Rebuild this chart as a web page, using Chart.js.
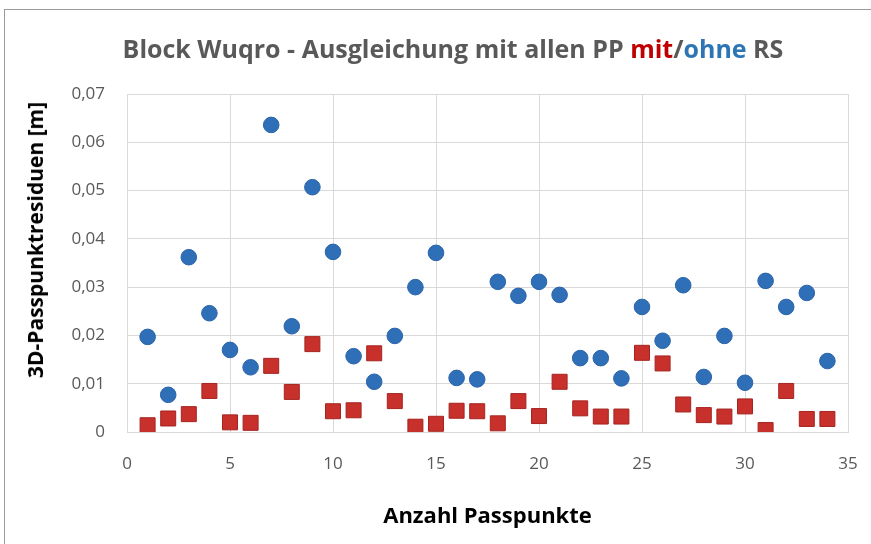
<!DOCTYPE html>
<html><head><meta charset="utf-8">
<script src="https://cdn.jsdelivr.net/npm/chart.js@4.4.1/dist/chart.umd.min.js"></script>
<style>
html,body{margin:0;padding:0;background:#fff;overflow:hidden;}
#wrap{position:relative;width:871px;height:544px;}
#frame{position:absolute;left:4px;top:9px;width:900px;height:600px;border:1.5px solid #9a9a9a;box-sizing:border-box;}
#title{position:absolute;left:0;width:906px;top:31px;text-align:center;font-family:"Open Sans",sans-serif;font-weight:bold;font-size:25px;line-height:34px;color:#595959;white-space:nowrap;}
#title .r{color:#c00000;} #title .b{color:#2e75b6;}
#ytitle{position:absolute;left:35px;top:240px;transform:translate(-50%,-50%) rotate(-90deg);font-family:"Open Sans",sans-serif;font-weight:bold;font-size:21px;line-height:26px;color:#000;white-space:nowrap;}
canvas{position:absolute;left:0;top:0;}
</style></head>
<body><div id="wrap"><div id="frame"></div>
<canvas id="c" width="871" height="544"></canvas>
<div id="title">Block Wuqro - Ausgleichung mit allen PP <span class="r">mit</span>/<span class="b">ohne</span> RS</div>
<div id="ytitle">3D-Passpunktresiduen [m]</div>
</div>
<script>
const passpunkte = [1,2,3,4,5,6,7,8,9,10,11,12,13,14,15,16,17,18,19,20,21,22,23,24,25,26,27,28,29,30,31,32,33,34];
const ohneRS = [0.0197,0.0077,0.0362,0.0246,0.0170,0.0134,0.0636,0.0219,0.0507,0.0373,0.0157,0.0104,0.0199,0.0300,0.0371,0.0112,0.0109,0.0311,0.0282,0.0311,0.0284,0.0153,0.0153,0.0111,0.0259,0.0189,0.0304,0.0114,0.0199,0.0102,0.0313,0.0259,0.0288,0.0147];
const mitRS = [0.0014,0.0028,0.0037,0.0085,0.0020,0.0019,0.0137,0.0083,0.0182,0.0043,0.0045,0.0163,0.0064,0.0011,0.0017,0.0044,0.0043,0.0018,0.0064,0.0033,0.0104,0.0049,0.0032,0.0032,0.0164,0.0142,0.0057,0.0035,0.0032,0.0053,0.0004,0.0085,0.0027,0.0027];
const xTicks = [0,5,10,15,20,25,30,35];
const yTicks = [0,0.01,0.02,0.03,0.04,0.05,0.06,0.07];

const toXY = vals => passpunkte.map((x,i)=>({x:x,y:vals[i]}));
const fmt = v => v===0 ? '0' : v.toFixed(2).replace('.',',');

new Chart(document.getElementById('c'),{
  type:'scatter',
  data:{datasets:[
    {label:'ohne RS',data:toXY(ohneRS),pointStyle:'circle',pointRadius:7.8,backgroundColor:'#2e6fb8',borderColor:'#2a64a8',borderWidth:1},
    {label:'mit RS',data:toXY(mitRS),pointStyle:'rect',pointRadius:10.6,backgroundColor:'#c8302c',borderColor:'#a52420',borderWidth:1}
  ]},
  options:{
    responsive:false,animation:false,
    layout:{padding:{top:94,right:23,left:0,bottom:0}},
    plugins:{legend:{display:false},title:{display:false},tooltip:{enabled:false}},
    scales:{
      x:{type:'linear',min:0,max:35,
        afterBuildTicks:s=>{s.ticks=xTicks.map(v=>({value:v}));},
        afterFit:s=>{s.height=112;s.paddingRight=10;s.paddingLeft=10;},
        grid:{color:'#d9d9d9',drawTicks:false},border:{color:'#d9d9d9'},
        ticks:{padding:22,color:'#595959',font:{family:'"Open Sans"',size:17}},
        title:{display:true,text:'Anzahl Passpunkte',color:'#000',font:{family:'"Open Sans"',size:22,weight:'bold'},padding:{top:0,bottom:14}}
      },
      y:{type:'linear',min:0,max:0.07,
        afterBuildTicks:s=>{s.ticks=yTicks.map(v=>({value:v}));},
        afterFit:s=>{s.width=127;},
        grid:{color:'#d9d9d9',drawTicks:false},border:{color:'#d9d9d9'},
        ticks:{padding:22,color:'#595959',font:{family:'"Open Sans"',size:17},callback:v=>fmt(v)}
      }
    }
  }
});
</script></body></html>
